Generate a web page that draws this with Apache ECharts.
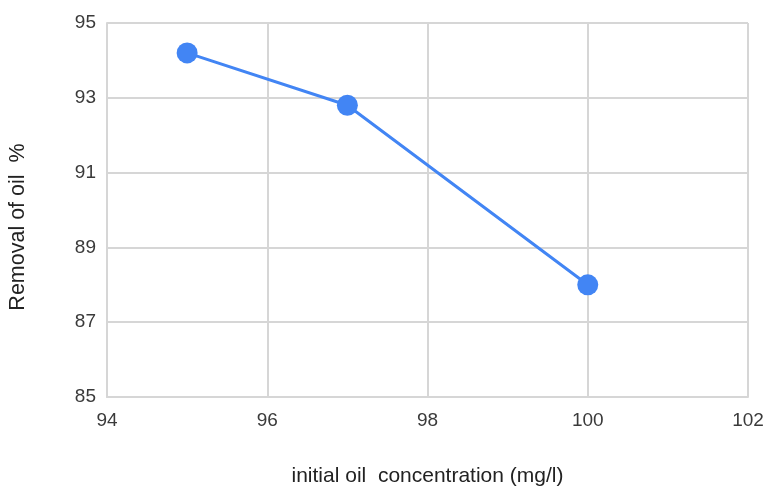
<!DOCTYPE html>
<html><head><meta charset="utf-8">
<script src="https://cdn.jsdelivr.net/npm/echarts@6/dist/echarts.min.js"></script>
<style>html,body{margin:0;padding:0;background:#fff}#c{width:766px;height:488px}</style>
</head><body><div id="c"></div>
<script>
const concentration = [95, 97, 100];
const removal = [94.2, 92.8, 88.0];
const xTicks = [94, 96, 98, 100, 102];
const yTicks = [85, 87, 89, 91, 93, 95];

const chart = echarts.init(document.getElementById('c'), null, {renderer: 'canvas'});
const gridColor = '#d6d6d6';
const font = 'Liberation Sans, Arial';
chart.setOption({
  animation: false,
  backgroundColor: '#ffffff',
  grid: {left: 107, right: 18, top: 23, bottom: 91, outerBoundsMode: 'none', containLabel: false},
  xAxis: {
    type: 'value', min: 94, max: 102, interval: 2,
    name: 'initial oil  concentration (mg/l)', nameLocation: 'middle', nameGap: 69,
    nameTextStyle: {fontFamily: font, fontSize: 21, color: '#222'},
    axisLine: {show: true, lineStyle: {color: gridColor, width: 2}},
    axisTick: {show: false},
    splitLine: {show: true, lineStyle: {color: gridColor, width: 2}},
    axisLabel: {fontFamily: font, fontSize: 19, color: '#3a3a3a', margin: 14}
  },
  yAxis: {
    type: 'value', min: 85, max: 95, interval: 2,
    name: '',
    axisLine: {show: true, lineStyle: {color: gridColor, width: 2}},
    axisTick: {show: false},
    splitLine: {show: true, lineStyle: {color: gridColor, width: 2}},
    axisLabel: {fontFamily: font, fontSize: 19, color: '#3a3a3a', margin: 11, padding: [4, 0, 0, 0]}
  },
  graphic: [{
    type: 'text', x: 18, y: 227, rotation: Math.PI / 2,
    style: {text: 'Removal of oil  %', fontFamily: font, fontSize: 21.5, fill: '#222',
            align: 'center', verticalAlign: 'middle'}
  }],
  series: [{
    type: 'line',
    data: concentration.map((x, i) => [x, removal[i]]),
    symbol: 'circle', symbolSize: 21,
    lineStyle: {color: '#4285F4', width: 3},
    itemStyle: {color: '#4285F4'}
  }]
});
</script></body></html>
